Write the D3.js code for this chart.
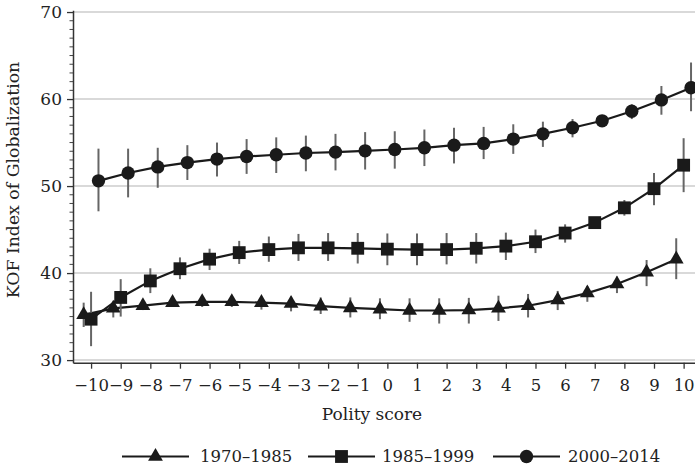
<!DOCTYPE html>
<html>
<head>
<meta charset="utf-8">
<script src="https://cdn.jsdelivr.net/npm/d3@7"></script>
<style>
  html, body { margin: 0; padding: 0; background: #fff; }
  svg { display: block; }
  text { font-family: "DejaVu Serif", "Liberation Serif", serif; fill: #222; }
</style>
</head>
<body>
<svg id="chart" width="695" height="468"></svg>
<script>
// ---- data ----
const polity = [-10,-9,-8,-7,-6,-5,-4,-3,-2,-1,0,1,2,3,4,5,6,7,8,9,10];
const seriesNames = ["1970–1985", "1985–1999", "2000–2014"];

const mean1970 = [35.2,35.95,36.25,36.6,36.7,36.7,36.6,36.5,36.2,36.0,35.85,35.7,35.7,35.75,35.95,36.25,36.9,37.7,38.75,40.1,41.6];
const hi1970   = [36.6,36.7,37.0,37.3,37.4,37.4,37.25,37.3,37.2,37.2,37.1,37.1,37.1,37.15,37.4,37.6,37.95,38.5,39.6,41.5,44.0];
const lo1970   = [33.8,34.9,35.75,36.1,36.1,36.1,35.8,35.6,35.3,34.9,34.7,34.4,34.2,34.2,34.5,34.9,35.75,36.7,37.7,38.5,39.3];

const mean1985 = [34.7,37.2,39.1,40.5,41.6,42.35,42.7,42.9,42.9,42.85,42.75,42.7,42.7,42.85,43.1,43.6,44.6,45.8,47.5,49.7,52.4];
const hi1985   = [37.85,39.3,40.55,41.8,42.8,43.7,44.2,44.5,44.6,44.6,44.55,44.55,44.6,44.6,44.65,45.0,45.6,46.2,48.4,51.5,55.5];
const lo1985   = [31.6,35.0,37.7,39.3,40.35,41.05,41.3,41.4,41.4,41.1,40.9,40.9,41.0,41.1,41.5,42.3,43.5,45.4,46.6,47.8,49.3];

const mean2000 = [50.6,51.5,52.2,52.7,53.1,53.4,53.6,53.8,53.9,54.05,54.2,54.4,54.7,54.9,55.4,56.0,56.7,57.5,58.6,59.9,61.3];
const hi2000   = [54.3,54.3,54.4,54.7,55.0,55.4,55.6,55.8,56.0,56.2,56.3,56.5,56.7,56.8,57.1,57.4,57.7,57.9,59.4,61.5,64.2];
const lo2000   = [47.1,48.7,49.8,50.7,51.1,51.4,51.5,51.7,51.8,51.9,52.0,52.3,52.6,53.1,53.7,54.5,55.6,57.1,57.7,58.2,58.6];

const yTicks = [30,40,50,60,70];
const xTicks = polity;
const yTitle = "KOF Index of Globalization";
const xTitle = "Polity score";

// ---- layout ----
const svg = d3.select("#chart");
const x = d3.scaleLinear().domain([-10.61, 10.61]).range([73, 701.7]);
const y = d3.scaleLinear().domain([29.7, 70.2]).range([362.7, 10.3]);
const offsets = [-0.25, 0, 0.25];
const symbols = [d3.symbolTriangle, d3.symbolSquare, d3.symbolCircle];
const symSizes = [95, 165, 140];

const series = [
  {name: seriesNames[0], mean: mean1970, hi: hi1970, lo: lo1970},
  {name: seriesNames[1], mean: mean1985, hi: hi1985, lo: lo1985},
  {name: seriesNames[2], mean: mean2000, hi: hi2000, lo: lo2000}
];

// gridlines
svg.append("g").selectAll("line").data(yTicks).join("line")
  .attr("x1", 73).attr("x2", 695)
  .attr("y1", d => y(d)).attr("y2", d => y(d))
  .attr("stroke", "#d9d9d9").attr("stroke-width", 2);

// minor y ticks
const minor = d3.range(30, 71).filter(v => v % 10 !== 0);
svg.append("g").selectAll("line").data(minor).join("line")
  .attr("x1", 69.5).attr("x2", 73)
  .attr("y1", d => y(d)).attr("y2", d => y(d))
  .attr("stroke", "#444").attr("stroke-width", 1);

// y axis
const yAxis = svg.append("g").attr("transform", "translate(73,0)")
  .call(d3.axisLeft(y).tickValues(yTicks).tickSize(6).tickPadding(5).tickSizeOuter(0));
yAxis.select(".domain").attr("stroke", "#333").attr("stroke-width", 1.5);
yAxis.selectAll(".tick line").attr("stroke", "#333").attr("stroke-width", 1.3);
yAxis.selectAll(".tick text").style("font-size", "17px").attr("fill", "#222");

// x axis
const xAxis = svg.append("g").attr("transform", "translate(0,362.7)")
  .call(d3.axisBottom(x).tickValues(xTicks).tickSize(6).tickPadding(11).tickSizeOuter(0)
    .tickFormat(d => d < 0 ? "\u2212" + Math.abs(d) : String(d)));
xAxis.select(".domain").attr("stroke", "#333").attr("stroke-width", 1.5);
xAxis.selectAll(".tick line").attr("stroke", "#333").attr("stroke-width", 1.3);
xAxis.selectAll(".tick text").style("font-size", "16.5px").attr("fill", "#222");

// titles
svg.append("text").attr("transform", "translate(19,180) rotate(-90)")
  .attr("text-anchor", "middle").style("font-size", "17.3px").text(yTitle);
svg.append("text").attr("x", 372).attr("y", 420)
  .attr("text-anchor", "middle").style("font-size", "17px").text(xTitle);

// series
const plot = svg.append("g");
series.forEach((s, i) => {
  const g = plot.append("g");
  const pts = polity.map((p, j) => ({px: p + offsets[i], m: s.mean[j], hi: s.hi[j], lo: s.lo[j]}));
  g.selectAll("line.err").data(pts).join("line").attr("class", "err")
    .attr("x1", d => x(d.px)).attr("x2", d => x(d.px))
    .attr("y1", d => y(d.hi)).attr("y2", d => y(d.lo))
    .attr("stroke", "#666").attr("stroke-width", 2);
  g.append("path").datum(pts)
    .attr("d", d3.line().x(d => x(d.px)).y(d => y(d.m)))
    .attr("fill", "none").attr("stroke", "#1a1a1a").attr("stroke-width", 2.2);
  g.selectAll("path.mk").data(pts).join("path").attr("class", "mk")
    .attr("transform", d => `translate(${x(d.px)},${y(d.m)})`)
    .attr("d", d3.symbol().type(symbols[i]).size(symSizes[i]))
    .attr("fill", "#1a1a1a");
});

// legend
const legend = [
  {x1: 122, x2: 189, tx: 200},
  {x1: 308, x2: 375, tx: 382},
  {x1: 493, x2: 560, tx: 568}
];
const ly = 456.5;
legend.forEach((l, i) => {
  const g = svg.append("g");
  g.append("line").attr("x1", l.x1).attr("x2", l.x2).attr("y1", ly).attr("y2", ly)
    .attr("stroke", "#1a1a1a").attr("stroke-width", 2.2);
  g.append("path").attr("transform", `translate(${(l.x1 + l.x2) / 2},${ly})`)
    .attr("d", d3.symbol().type(symbols[i]).size(symSizes[i])).attr("fill", "#1a1a1a");
  g.append("text").attr("x", l.tx).attr("y", ly + 5.5).style("font-size", "16.5px").text(seriesNames[i]);
});
</script>
</body>
</html>
